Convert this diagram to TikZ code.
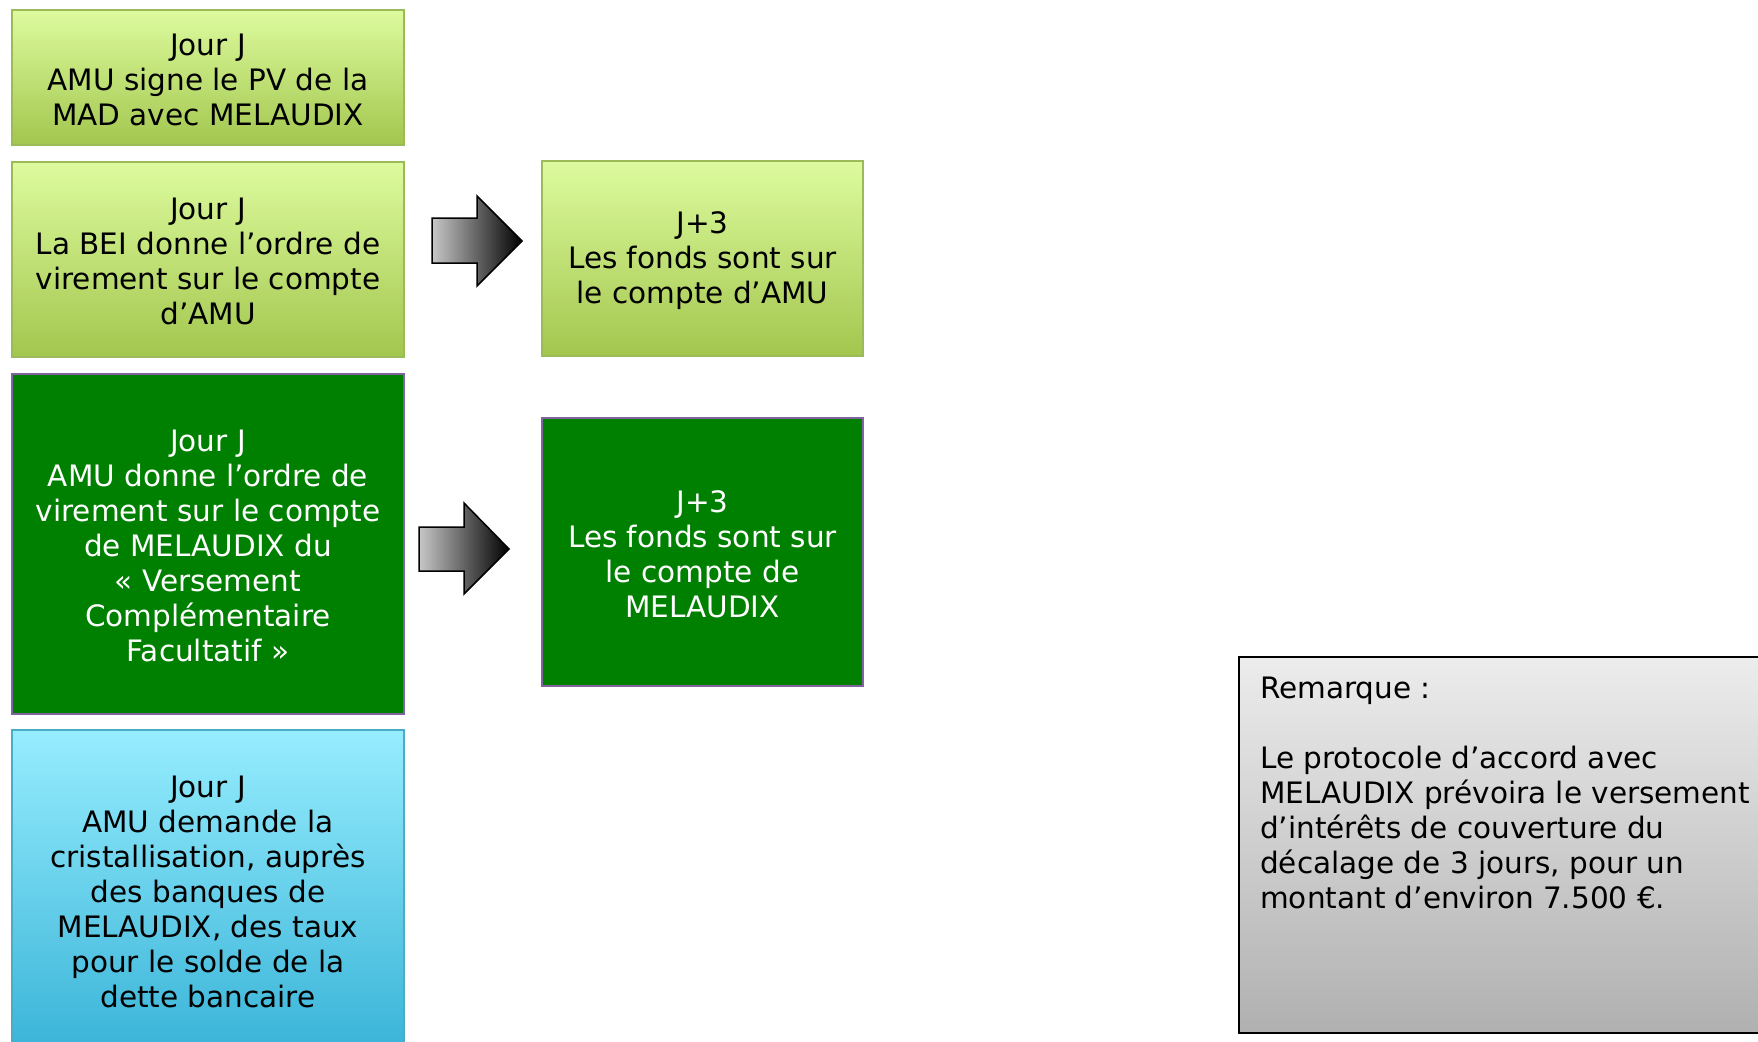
\documentclass[tikz,border=0pt]{standalone}
\usepackage{fontspec}
\setmainfont{DejaVu Sans}
\definecolor{lgtop}{RGB}{221,251,158}
\definecolor{lgbot}{RGB}{163,198,78}
\definecolor{lgline}{RGB}{155,187,89}
\definecolor{dgreen}{RGB}{0,128,0}
\definecolor{purpleline}{RGB}{128,100,162}
\definecolor{cytop}{RGB}{150,237,254}
\definecolor{cybot}{RGB}{58,180,216}
\definecolor{cyline}{RGB}{75,172,198}
\definecolor{grtop}{RGB}{236,236,236}
\definecolor{grbot}{RGB}{176,176,176}
\newcommand\firststrut{\rule{0pt}{26pt}}
\tikzset{
  txt/.style={font=\fontsize{29.5}{35}\selectfont},
  box/.style={txt, line width=1.5pt, align=center, inner sep=0pt, minimum width=392pt},
  lightbox/.style={box, draw=lgline, top color=lgtop, bottom color=lgbot, text=black},
  darkbox/.style={box, draw=purpleline, fill=dgreen, text=white},
  cyanbox/.style={box, draw=cyline, top color=cytop, bottom color=cybot, text=black},
  blockarrow/.style={draw=black, line width=1.5pt, line join=miter, left color=black!22, right color=black},
}
\begin{document}
\begin{tikzpicture}[x=1pt,y=-1pt]
\useasboundingbox (0,0) rectangle (1758,1041);
\clip (0,0) rectangle (1758,1041);
\fill[white] (0,0) rectangle (1758,1041);

\node[lightbox, minimum height=135pt] (b1) at (208,77.5)
  {\firststrut Jour J\\AMU signe le PV de la\\MAD avec MELAUDIX};
\node[lightbox, minimum height=195pt] (b2) at (208,259.5)
  {\firststrut Jour J\\La BEI donne l’ordre de\\virement sur le compte\\d’AMU};
\node[darkbox, minimum height=340pt] (b3) at (208,544)
  {\firststrut Jour J\\AMU donne l’ordre de\\virement sur le compte\\de MELAUDIX du\\« Versement\\Complémentaire\\Facultatif »};
\node[cyanbox, minimum height=320pt] (b4) at (208,890)
  {\firststrut Jour J\\AMU demande la\\cristallisation, auprès\\des banques de\\MELAUDIX, des taux\\pour le solde de la\\dette bancaire};

\node[lightbox, minimum width=321pt, minimum height=195pt] (b5) at (702.5,258.5)
  {\firststrut J+3\\Les fonds sont sur\\le compte d’AMU};
\node[darkbox, minimum width=321pt, minimum height=268pt] (b6) at (702.5,552)
  {\firststrut J+3\\Les fonds sont sur\\le compte de\\MELAUDIX};

% block arrows
\path[blockarrow] (432,218) -- (477,218) -- (477,196) -- (522,241) -- (477,286) -- (477,263) -- (432,263) -- cycle;
\path[blockarrow] (419,527) -- (464,527) -- (464,503) -- (509,549) -- (464,594) -- (464,571) -- (419,571) -- cycle;

% remark box
\path[draw=black, line width=2pt, top color=grtop, bottom color=grbot] (1239,657) rectangle (1775,1033);
\node[txt, anchor=north west, align=left, inner sep=0pt] (rem) at (1260,677)
  {Remarque :\\[35pt]Le protocole d’accord avec\\MELAUDIX prévoira le versement\\d’intérêts de couverture du\\décalage de 3 jours, pour un\\montant d’environ 7.500 €.};
\end{tikzpicture}
\end{document}
